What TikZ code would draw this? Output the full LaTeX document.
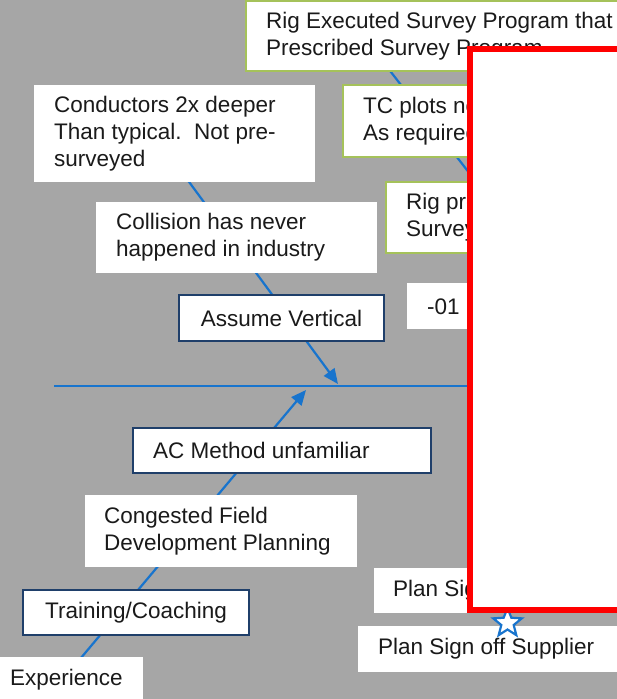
\documentclass[tikz,border=0pt]{standalone}
\usepackage{fontspec}
\setmainfont{Liberation Sans}
\usetikzlibrary{arrows.meta,shapes.geometric}
\definecolor{bg}{HTML}{A6A6A6}
\definecolor{fishblue}{HTML}{1874CD}
\definecolor{greenb}{HTML}{A5C25A}
\definecolor{navyb}{HTML}{1F3F6A}
\definecolor{txt}{HTML}{1A1A1A}
\tikzset{
  boxw/.style={rectangle, fill=white, inner sep=0pt, outer sep=0pt, anchor=north west},
  gbox/.style={boxw, draw=greenb, line width=1.8pt},
  nbox/.style={boxw, draw=navyb, line width=1.8pt, font=\fontsize{22.5}{27}\selectfont, text=txt, align=center},
  lbl/.style={anchor=west, align=left, inner sep=0pt, font=\fontsize{22.5}{27}\selectfont, text=txt},
  conn/.style={draw=fishblue, line width=2.2pt},
  tipped/.style={conn, -{Triangle[length=15pt,width=13pt]}},
}
\begin{document}
\begin{tikzpicture}[x=1pt,y=-1pt]
\useasboundingbox (0,0) rectangle (617,699);
\fill[bg] (0,0) rectangle (617,699);

% spine and bones
\coordinate (spineL) at (54,386);
\coordinate (spineR) at (560,386);
\draw[conn, line width=2.6pt] (spineL) -- (spineR);
\coordinate (u0) at (153,133);
\coordinate (uTip) at (338,384);
\draw[tipped] (u0) -- (uTip);
\coordinate (b0) at (70,671);
\coordinate (bTip) at (306,390);
\draw[tipped] (b0) -- (bTip);
\coordinate (r0) at (370,45);
\coordinate (r1) at (560,290);
\draw[conn] (r0) -- (r1);

% boxes (upper)
\node[gbox, minimum width=400pt, minimum height=70pt] (rigexec) at (246,1) {};
\node[lbl] (rigexec-t) at ([xshift=20pt]rigexec.west) {Rig Executed Survey Program that\\Prescribed Survey Program};
\node[gbox, minimum width=300pt, minimum height=72pt] (tcplots) at (343,85) {};
\node[lbl] (tcplots-t) at ([xshift=20pt]tcplots.west) {TC plots not\\As required};
\node[gbox, minimum width=260pt, minimum height=71pt] (rigpr) at (386,182) {};
\node[lbl] (rigpr-t) at ([xshift=20pt]rigpr.west) {Rig prescribed\\Survey};
\node[boxw, minimum width=281pt, minimum height=97pt] (conductors) at (34,85) {};
\node[lbl] (conductors-t) at ([xshift=20pt]conductors.west) {Conductors 2x deeper\\Than typical.\ \ Not pre-\\surveyed};
\node[boxw, minimum width=281pt, minimum height=71pt] (collision) at (96,202) {};
\node[lbl] (collision-t) at ([xshift=20pt]collision.west) {Collision has never\\happened in industry};
\node[nbox, minimum width=205pt, minimum height=46pt] (assume) at (179,295) {Assume Vertical};
\node[boxw, minimum width=240pt, minimum height=46pt] (minus01) at (407,283) {};
\node[lbl] (minus01-t) at ([xshift=20pt]minus01.west) {-01 Plan};

% boxes (lower)
\node[nbox, minimum width=298pt, minimum height=45pt] (ac) at (133,428) {};
\node[lbl] (ac-t) at ([xshift=20pt]ac.west) {AC Method unfamiliar};
\node[boxw, minimum width=272pt, minimum height=72pt] (congested) at (85,495) {};
\node[lbl] (congested-t) at ([xshift=19pt]congested.west) {Congested Field\\Development Planning};
\node[nbox, minimum width=226pt, minimum height=45pt] (training) at (23,590) {Training/Coaching};
\node[boxw, minimum width=153pt, minimum height=46pt] (experience) at (-10,657) {};
\node[lbl] (experience-t) at ([xshift=20pt]experience.west) {Experience};
\node[boxw, minimum width=270pt, minimum height=45pt] (plansig) at (374,568) {};
\node[lbl] (plansig-t) at ([xshift=19pt]plansig.west) {Plan Sign off};
\node[boxw, minimum width=260pt, minimum height=46pt] (supplier) at (358,626) {};
\node[lbl] (supplier-t) at ([xshift=20pt]supplier.west) {Plan Sign off Supplier};

% star and red cover
\node[star, star points=5, star point ratio=2.3, minimum size=30pt, inner sep=0pt,
      draw=fishblue, line width=2.2pt, fill=white] (star) at (507.5,623) {};
\node[boxw, draw=red, line width=6pt, minimum width=180pt, minimum height=561pt] (redbox) at (470,49) {};
\end{tikzpicture}
\end{document}
